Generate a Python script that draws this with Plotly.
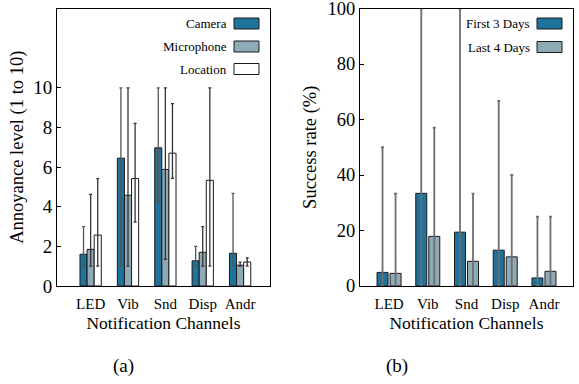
import plotly.graph_objects as go

channels = ["LED", "Vib", "Snd", "Disp", "Andr"]

# (a) Annoyance level
camera = [1.6, 6.45, 6.97, 1.27, 1.65]
camera_lo = [1.0, 1.0, 4.22, 1.0, 1.0]
camera_hi = [3.0, 10.0, 10.0, 2.0, 4.67]
micro = [1.85, 4.58, 5.88, 1.7, 1.05]
micro_lo = [1.0, 1.0, 1.35, 1.0, 1.0]
micro_hi = [4.62, 10.0, 10.0, 3.0, 1.2]
location = [2.57, 5.42, 6.7, 5.33, 1.21]
location_lo = [1.0, 3.22, 5.43, 1.0, 1.0]
location_hi = [5.42, 8.2, 9.2, 10.0, 1.42]

# (b) Success rate
first3 = [4.9, 33.4, 19.4, 12.9, 2.9]
first3_lo = [0, 0, 0, 0, 0]
first3_hi = [50.0, 100.0, 100.0, 66.7, 25.0]
last4 = [4.55, 17.9, 8.9, 10.5, 5.3]
last4_lo = [0, 0, 0, 0, 0]
last4_hi = [33.3, 57.1, 33.3, 40.0, 25.0]

FONT = "'Liberation Serif', 'Times New Roman', Times, serif"
C_DARK = "#1f729b"
C_MID = "#8eaab7"
C_WHITE = "#ffffff"
OUT = "#1a1a1a"

def err(vals, lo, hi, color, thick, width):
    return dict(type="data", symmetric=False,
                array=[h - v for v, h in zip(vals, hi)],
                arrayminus=[v - l for v, l in zip(vals, lo)],
                color=color, thickness=thick, width=width)

fig = go.Figure()

wa = 0.19
left_series = [
    ("Camera", camera, camera_lo, camera_hi, C_DARK, "#555555"),
    ("Microphone", micro, micro_lo, micro_hi, C_MID, "#333333"),
    ("Location", location, location_lo, location_hi, C_WHITE, "#333333"),
]
for i, (name, v, lo, hi, col, ecol) in enumerate(left_series):
    fig.add_trace(go.Bar(
        x=channels, y=v, name=name, xaxis="x", yaxis="y",
        width=wa, offset=-1.5 * wa + i * wa,
        marker=dict(color=col, line=dict(color=OUT, width=1)),
        error_y=err(v, lo, hi, ecol, 1.3, 1.5),
        showlegend=False))

wb = 0.284
right_series = [
    ("First 3 Days", first3, first3_lo, first3_hi, C_DARK, "#6e6e6e"),
    ("Last 4 Days", last4, last4_lo, last4_hi, C_MID, "#6e6e6e"),
]
offs = [-0.31, 0.026]
for i, (name, v, lo, hi, col, ecol) in enumerate(right_series):
    fig.add_trace(go.Bar(
        x=channels, y=v, name=name, xaxis="x2", yaxis="y2",
        width=wb, offset=offs[i],
        marker=dict(color=col, line=dict(color=OUT, width=1)),
        error_y=err(v, lo, hi, ecol, 1.8, 1.5),
        showlegend=False))

W, H = 579, 384
def px(x):
    return x / W
def py(y):
    return 1 - y / H

axcommon = dict(showline=True, mirror=True, linecolor="black", linewidth=1,
                showgrid=False, zeroline=False, automargin=False)

fig.update_layout(
    width=W, height=H, barmode="overlay",
    margin=dict(l=0, r=0, t=0, b=0, autoexpand=False),
    paper_bgcolor="white", plot_bgcolor="white",
    font=dict(family=FONT, color="black"),
    xaxis=dict(domain=[px(57), px(270)], anchor="y", type="category",
               range=[-0.9, 4.8], ticks="", ticklabelstandoff=4,
               tickfont=dict(size=15, family=FONT),
               title=dict(text="Notification Channels", font=dict(size=17.5, family=FONT), standoff=5),
               **axcommon),
    yaxis=dict(domain=[py(286), py(8.5)], anchor="x", range=[0, 14],
               tickvals=[0, 2, 4, 6, 8, 10], ticks="inside", ticklen=4,
               tickcolor="black", ticklabeloverflow="allow",
               tickfont=dict(size=19, family=FONT),
               title=dict(text="Annoyance level (1 to 10)", font=dict(size=18.5, family=FONT), standoff=4),
               **axcommon),
    xaxis2=dict(domain=[px(360), px(573)], anchor="y2", type="category",
                range=[-0.75, 4.75], ticks="", ticklabelstandoff=4,
                tickfont=dict(size=15, family=FONT),
                title=dict(text="Notification Channels", font=dict(size=17.5, family=FONT), standoff=5),
                **axcommon),
    yaxis2=dict(domain=[py(286), py(8.5)], anchor="x2", range=[0, 100],
                tickvals=[0, 20, 40, 60, 80, 100], ticks="inside", ticklen=4,
                tickcolor="black", ticklabeloverflow="allow",
                tickfont=dict(size=18.5, family=FONT),
                title=dict(text="Success rate (%)", font=dict(size=18.5, family=FONT), standoff=6),
                **axcommon),
)

# Legends (text right, swatch on the right)
def legend_entry(label, color, xr_text, sx0, sx1, yc):
    fig.add_shape(type="rect", xref="paper", yref="paper",
                  x0=px(sx0), x1=px(sx1), y0=py(yc + 5.5), y1=py(yc - 5.5),
                  fillcolor=color, line=dict(color=OUT, width=1))
    fig.add_annotation(xref="paper", yref="paper", x=px(xr_text), y=py(yc),
                       text=label, showarrow=False, xanchor="right", yanchor="middle",
                       font=dict(size=13, family=FONT, color="black"))

for (name, _, _, _, col, _), yc in zip(left_series, [23.5, 46.5, 69]):
    legend_entry(name, col, 229, 234, 259, yc)
for (name, _, _, _, col, _), yc in zip(right_series, [23.5, 47]):
    legend_entry(name, col, 532, 537, 562, yc)

fig.add_annotation(xref="paper", yref="paper", x=px(123), y=py(366), text="(a)",
                   showarrow=False, xanchor="center", yanchor="middle",
                   font=dict(size=19, family=FONT, color="black"))
fig.add_annotation(xref="paper", yref="paper", x=px(397), y=py(366), text="(b)",
                   showarrow=False, xanchor="center", yanchor="middle",
                   font=dict(size=19, family=FONT, color="black"))

fig.write_html("out.html", config={"displayModeBar": False},
               post_script="document.body.style.margin='0px';document.body.style.padding='0px';")
